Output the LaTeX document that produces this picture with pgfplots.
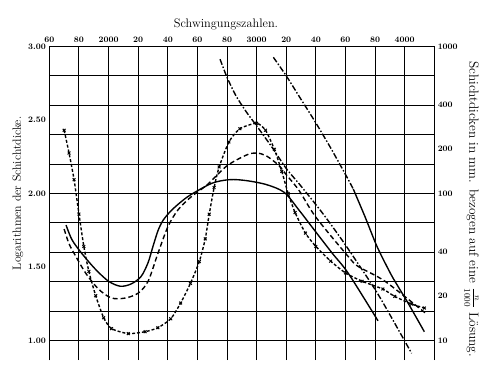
\documentclass[border=0pt]{standalone}
\usepackage{pgfplots}
\pgfplotsset{compat=1.18}
\begin{document}
\begin{tikzpicture}[x=1pt,y=1pt]
\path (-50,-5) rectangle (432,365);
\begin{axis}[
 at={(0,0)}, anchor=south west,
 scale only axis, width=390pt, height=318pt,
 xmin=1600, xmax=4200, ymin=0.866, ymax=3,
 axis x line*=top, axis y line*=left,
 axis line style={line width=1.4pt},
 xtick={1600,1800,2000,2200,2400,2600,2800,3000,3200,3400,3600,3800,4000},
 xticklabels={60,80,2000,20,40,60,80,3000,20,40,60,80,4000},
 ytick={1,1.5,2,2.5,3},
 yticklabels={1.00,1.50,2.00,2.50,3.00},
 minor ytick={1,1.2,1.4,1.6,1.8,2,2.2,2.4,2.6,2.8,3},
 xmajorgrids=true, ymajorgrids=false, yminorgrids=true,
 grid style={black, line width=1pt},
 minor grid style={black, line width=1pt},
 major tick length=0pt, minor tick length=0pt,
 ticklabel style={font=\fontsize{8.5}{10}\selectfont\bfseries},
 /pgf/number format/assume math mode=true,
 xlabel={Schwingungszahlen.},
 xlabel style={font=\fontsize{12.5}{14}\selectfont, xshift=-16pt},
 ylabel={Logarithmen der Schichtdicke.},
 ylabel style={font=\fontsize{12}{14}\selectfont, yshift=-2pt, xshift=10pt},
 every axis plot/.append style={black, line width=1.4pt},
]
% A: dashed with crosses
\addplot[smooth, tension=0.4, dash pattern=on 3pt off 2pt, mark=x, mark size=2pt, mark options={solid, line width=1pt}] coordinates {
(1700,2.430) (1733,2.275) (1767,2.094) (1800,1.860) (1833,1.640) (1867,1.470)
(1913,1.305) (1967,1.155) (2020,1.081) (2133,1.047)
(2247,1.060) (2333,1.087) (2420,1.148) (2487,1.255) (2553,1.389) (2613,1.537)
(2653,1.691) (2680,1.859) (2713,2.040) (2747,2.180) (2813,2.350) (2887,2.440)
(3000,2.477) (3060,2.430) (3120,2.300) (3170,2.150) (3213,2.000) (3260,1.870)
(3330,1.730) (3400,1.640) (3500,1.540) (3600,1.460) (3713,1.403) (3853,1.350)
(3933,1.300) (4047,1.248) (4133,1.221)};
% B: solid S-curve
\addplot[smooth, tension=0.5] coordinates {
(1713,1.785) (1753,1.685) (1820,1.591) (1913,1.483) (2000,1.403) (2080,1.369)
(2153,1.385) (2220,1.436) (2267,1.530) (2300,1.640) (2335,1.750) (2370,1.820) (2420,1.880)
(2480,1.935) (2553,1.990) (2700,2.070) (2820,2.094) (2933,2.087)
(3067,2.060) (3187,2.007) (3287,1.886) (3400,1.738) (3513,1.591) (3620,1.456)
(3820,1.134)};
% C: dashed
\addplot[smooth, tension=0.5, dash pattern=on 5pt off 3pt] coordinates {
(1700,1.758) (1733,1.658) (1780,1.570) (1847,1.456) (1933,1.349) (2020,1.289)
(2113,1.289) (2200,1.322) (2267,1.403) (2333,1.591) (2400,1.772) (2467,1.886)
(2553,1.973) (2667,2.060) (2800,2.188) (2933,2.262) (3000,2.275) (3067,2.255)
(3153,2.188) (3200,2.128) (3287,2.020) (3400,1.839) (3620,1.570) (3687,1.503)
(3867,1.403) (4147,1.181)};
% D: dash-dot
\addplot[smooth, tension=0.4, dash pattern=on 6pt off 2pt on 1.5pt off 2pt] coordinates {
(2753,2.913) (2800,2.790) (2860,2.665) (2930,2.555) (3000,2.460) (3100,2.320)
(3200,2.170) (3300,2.050) (3450,1.860) (3600,1.650) (3820,1.315) (4047,0.913)};
% E: dash-dot upper part
\addplot[smooth, tension=0.4, dash pattern=on 6pt off 2pt on 1.5pt off 2pt] coordinates {
(3113,2.926) (3200,2.800) (3300,2.640) (3400,2.480) (3500,2.310) (3600,2.130) (3653,2.030)};
% E: solid lower part
\addplot[smooth, tension=0.4] coordinates {
(3653,2.030) (3733,1.840) (3813,1.640) (3913,1.440) (4020,1.260) (4133,1.060)};
\end{axis}
\begin{axis}[
 at={(0,0)}, anchor=south west,
 scale only axis, width=390pt, height=318pt,
 xmin=1600, xmax=4200, ymin=0.866, ymax=3,
 axis x line=none, axis y line*=right,
 axis line style={line width=1.4pt},
 ytick={3,2.60206,2.30103,2,1.60206,1.30103,1},
 yticklabels={1000,400,200,100,40,20,10},
 major tick length=0pt,
 ticklabel style={font=\fontsize{8.5}{10}\selectfont\bfseries},
 /pgf/number format/assume math mode=true,
 ylabel={Schichtdicken in mm. bezogen auf eine $\frac{n}{1000}$ L\"osung.},
 ylabel style={font=\fontsize{13.5}{15}\selectfont, rotate=180, xshift=6pt},
]
\end{axis}
\end{tikzpicture}
\end{document}
